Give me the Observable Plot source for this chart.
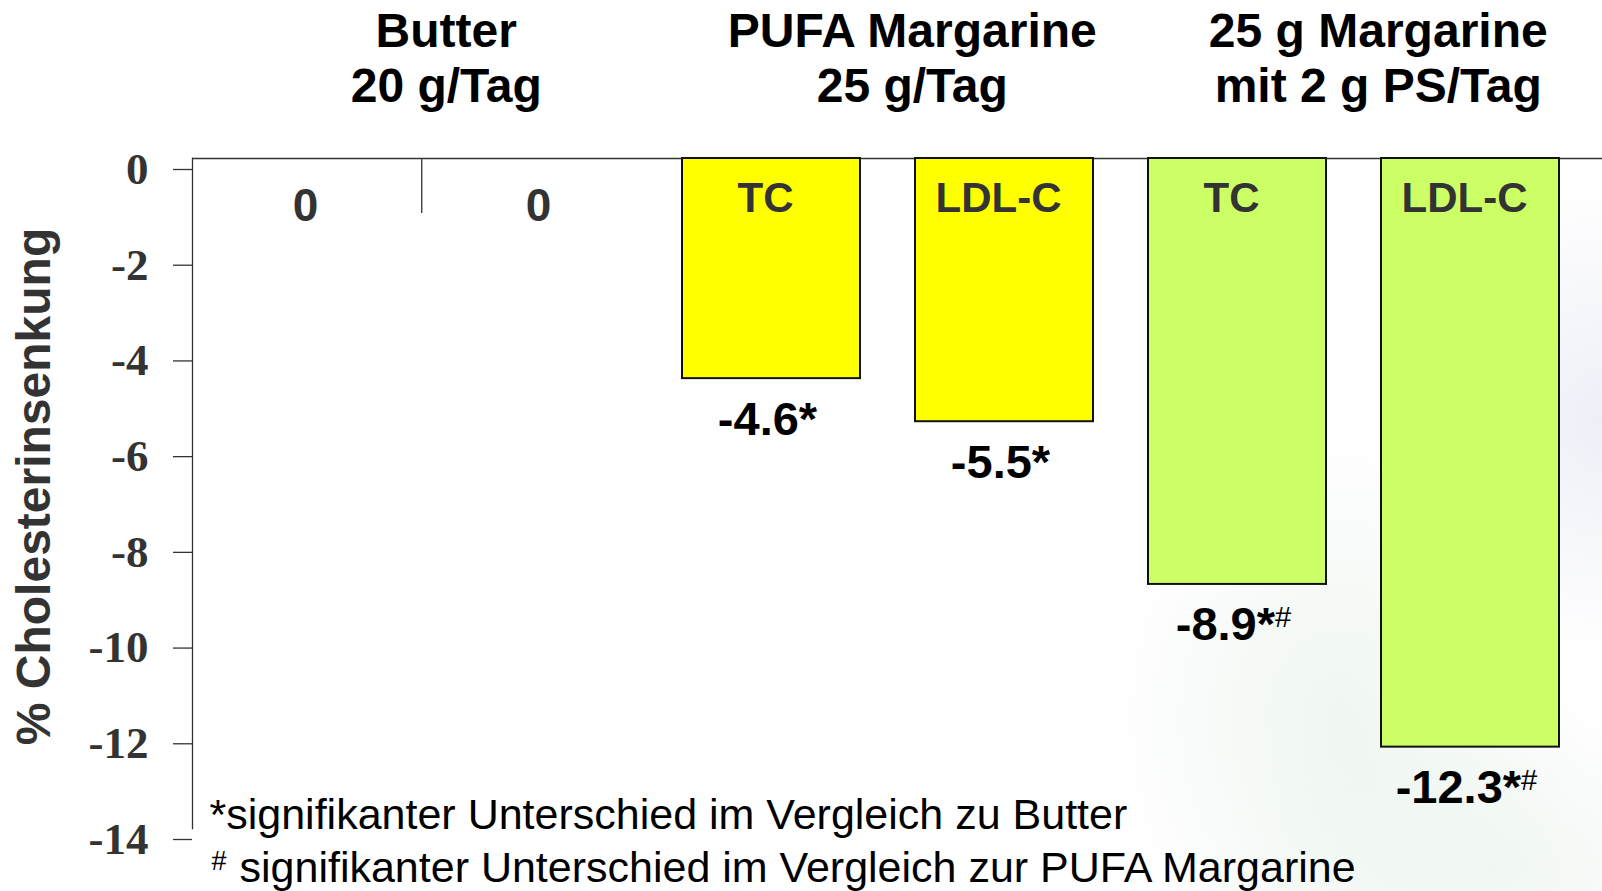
<!DOCTYPE html>
<html>
<head>
<meta charset="utf-8">
<script src="https://cdn.jsdelivr.net/npm/d3@7"></script>
<script src="https://cdn.jsdelivr.net/npm/@observablehq/plot@0.6"></script>
<style>
  html, body { margin: 0; padding: 0; width: 1602px; height: 891px; overflow: hidden; }
  body {
    background:
      radial-gradient(ellipse 240px 300px at 1340px 720px, rgba(220,236,224,0.45), rgba(220,236,224,0) 100%),
      radial-gradient(ellipse 180px 240px at 1600px 420px, rgba(226,229,242,0.6), rgba(226,229,242,0) 100%),
      radial-gradient(ellipse 280px 180px at 1500px 870px, rgba(222,236,226,0.4), rgba(222,236,226,0) 100%),
      #ffffff;
  }
  #chart svg { display: block; }
</style>
</head>
<body>
<div id="chart"></div>
<script>
// ---- data ----
const categories = ["Butter TC", "Butter LDL-C", "PUFA TC", "PUFA LDL-C", "PS TC", "PS LDL-C"];
const groupOf    = ["Butter", "Butter", "PUFA", "PUFA", "PS", "PS"];
const markers    = ["TC", "LDL-C", "TC", "LDL-C", "TC", "LDL-C"];
const values     = [0, 0, -4.6, -5.5, -8.9, -12.3];
const sigVsButter = [false, false, true, true, true, true];
const sigVsPufa   = [false, false, false, false, true, true];
const groupKeys   = ["Butter", "PUFA", "PS"];
const groupFirst  = ["Butter TC", "PUFA TC", "PS TC"];
const groupTitles = ["Butter\n20 g/Tag", "PUFA Margarine\n25 g/Tag", "25 g Margarine\nmit 2 g PS/Tag"];
const yTicks = [0, -2, -4, -6, -8, -10, -12, -14];
const yLabel = "% Cholesterinsenkung";
const footnote1 = "*signifikanter Unterschied im Vergleich zu Butter";
const footnote2 = "signifikanter Unterschied im Vergleich zur PUFA Margarine";
const footnote2Mark = "#";

// ---- styles ----
const groupColors = { Butter: "#ffffff", PUFA: "#ffff00", PS: "#ccff66" };
const SANS = "'Liberation Sans', Arial, sans-serif";
const SERIF = "'Liberation Serif', 'Times New Roman', serif";

const rows = categories.map((c, i) => ({
  cat: c, group: groupOf[i], marker: markers[i], value: values[i],
  label: values[i] === 0 ? "0" :
    values[i].toFixed(1) + (sigVsButter[i] ? "*" : "") + (sigVsPufa[i] ? "#" : "")
}));
const groups = groupKeys.map((g, i) => ({ key: g, first: groupFirst[i], title: groupTitles[i] }));
const bars = rows.filter(d => d.value !== 0);
const zeros = rows.filter(d => d.value === 0);

const xRange = [191, 1584], padIn = 0.235, padOut = 0.1;
const step = (xRange[1] - xRange[0]) / (categories.length - padIn + 2 * padOut);

const chart = Plot.plot({
  width: 1602,
  height: 891,
  marginTop: 158,
  marginBottom: 63,
  marginLeft: 192,
  marginRight: 0,
  style: { background: "transparent", fontFamily: SANS, overflow: "visible" },
  x: { domain: categories, range: xRange, paddingInner: padIn, paddingOuter: padOut, axis: null },
  y: { domain: [-14, 0], label: null },
  marks: [
    Plot.frame({ anchor: "left", stroke: "#333", strokeWidth: 1.3 }),
    Plot.axisY({
      ticks: yTicks, tickSize: 19, tickPadding: 25, tickFormat: d => String(d),
      stroke: "#333", strokeWidth: 1.3, fill: "#333",
      fontFamily: SERIF, fontWeight: "bold", fontSize: 45, dy: 11, label: null
    }),
    Plot.ruleY([0], { stroke: "#333", strokeWidth: 1.3 }),
    Plot.ruleX(rows.filter(d => d.cat === "Butter LDL-C"), {
      x: "cat", y1: () => 0, y2: () => -1.15, dx: -step / 2, stroke: "#333", strokeWidth: 1.3
    }),
    Plot.barY(bars, {
      x: "cat", y1: () => 0, y2: "value",
      fill: d => groupColors[d.group], stroke: "#111", strokeWidth: 2
    }),
    Plot.text(bars, {
      x: "cat", y: () => 0, text: "marker", lineAnchor: "bottom", dy: 53, dx: -6,
      fontSize: 42, fontWeight: "bold", fill: "#333", fontFamily: SANS
    }),
    Plot.text(zeros, {
      x: "cat", y: "value", text: "label", lineAnchor: "middle", dy: 48,
      fontSize: 46, fontWeight: "bold", fill: "#333", fontFamily: SANS
    }),
    Plot.text(bars, {
      x: "cat", y: "value", text: "label", lineAnchor: "bottom", dy: 56, dx: -4,
      fontSize: 47, fontWeight: "bold", fill: "#000", fontFamily: SANS
    }),
    Plot.text(groups, {
      x: "first", y: () => 0, text: "title", lineAnchor: "bottom", dy: -57,
      dx: step / 2 + 24, lineHeight: 1.13,
      fontSize: 48, fontWeight: "bold", fill: "#000", fontFamily: SANS
    }),
    Plot.text([yLabel], {
      text: d => d, frameAnchor: "left", rotate: -90, dx: -158, dy: -7,
      textAnchor: "middle", lineAnchor: "middle",
      fontSize: 48, fontWeight: "bold", fill: "#333", fontFamily: SANS
    }),
    Plot.text([footnote1], {
      text: d => d, frameAnchor: "bottom-left", textAnchor: "start", lineAnchor: "bottom",
      dx: 17, dy: 0, fontSize: 43, fill: "#000", fontFamily: SANS
    }),
    Plot.text([footnote2Mark], {
      text: d => d, frameAnchor: "bottom-left", textAnchor: "start", lineAnchor: "bottom",
      dx: 19, dy: 41, fontSize: 27, fill: "#000", fontFamily: SANS
    }),
    Plot.text([footnote2], {
      text: d => d, frameAnchor: "bottom-left", textAnchor: "start", lineAnchor: "bottom",
      dx: 47, dy: 53, fontSize: 43, fill: "#000", fontFamily: SANS
    })
  ]
});

// superscript "#" in value labels
d3.select(chart).selectAll("text").filter(function () {
  return this.textContent.length > 1 && /#$/.test(this.textContent) && !this.querySelector("tspan");
}).each(function () {
  const t = this.textContent;
  this.textContent = t.slice(0, -1);
  d3.select(this).append("tspan")
    .attr("font-size", "0.62em").attr("font-weight", "normal").attr("dy", "-0.45em")
    .text("#");
});

document.getElementById("chart").appendChild(chart);
</script>
</body>
</html>
